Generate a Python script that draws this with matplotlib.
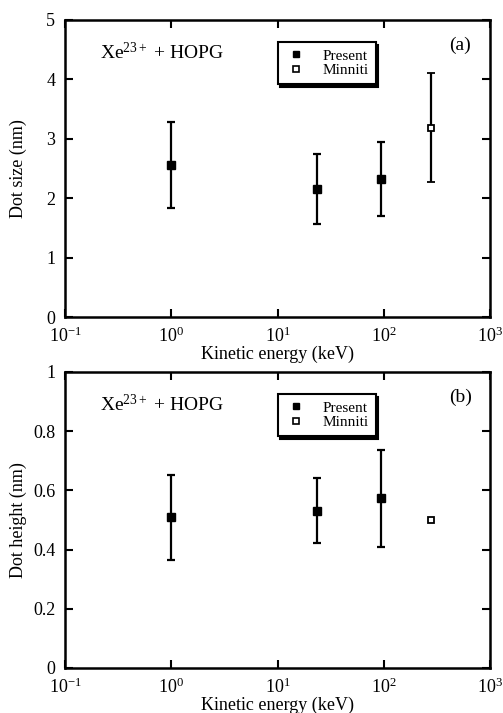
import numpy as np
import matplotlib
matplotlib.use("Agg")
import matplotlib.pyplot as plt

plt.rcParams["font.family"] = ["Liberation Serif", "DejaVu Serif"]
plt.rcParams["mathtext.fontset"] = "custom"
plt.rcParams["mathtext.rm"] = "Liberation Serif"
plt.rcParams["mathtext.it"] = "Liberation Serif:italic"

# Present data
energy_present = [1.0, 23.4, 93.5]
size_present = [2.56, 2.16, 2.33]
size_lo = [1.84, 1.57, 1.70]
size_hi = [3.28, 2.75, 2.95]
height_present = [0.509, 0.530, 0.573]
height_lo = [0.366, 0.421, 0.410]
height_hi = [0.651, 0.643, 0.737]

# Minniti data
energy_minniti = [278.0]
size_minniti = [3.19]
size_minniti_lo = [2.28]
size_minniti_hi = [4.10]
height_minniti = [0.50]

fig = plt.figure(figsize=(5.03, 7.13), dpi=100)
ax1 = fig.add_axes([65 / 503, 1 - 317 / 713, 425 / 503, 297 / 713])
ax2 = fig.add_axes([65 / 503, 1 - 668 / 713, 425 / 503, 296 / 713])


def style_axes(ax, ylim, yticks, ylabel, tag):
    ax.set_xscale("log")
    ax.set_xlim(0.1, 1000)
    ax.set_ylim(*ylim)
    ax.set_yticks(yticks)
    ax.set_yticklabels([f"{t:g}" for t in yticks])
    ax.set_xticks([0.1, 1, 10, 100, 1000])
    ax.xaxis.set_minor_locator(matplotlib.ticker.NullLocator())
    ax.tick_params(direction="in", top=True, right=True, length=6, width=1.5,
                   labelsize=13)
    ax.tick_params(axis="y", pad=7)
    ax.tick_params(axis="x", pad=7)
    for s in ax.spines.values():
        s.set_linewidth(1.8)
    ax.set_xlabel("Kinetic energy (keV)", fontsize=13, labelpad=0)
    ax.set_ylabel(ylabel, fontsize=13)
    ax.yaxis.set_label_coords(-0.09, 0.5)
    ax.text(0.082, 0.89, r"Xe$^{23+}$ + HOPG", transform=ax.transAxes,
            fontsize=14, va="center")
    ax.text(0.93, 0.915, tag, transform=ax.transAxes, fontsize=14,
            ha="center", va="center")


def err(vals, lo, hi):
    v = np.array(vals)
    return [v - np.array(lo), np.array(hi) - v]


ax1.errorbar(energy_present, size_present, yerr=err(size_present, size_lo, size_hi),
             fmt="s", color="black", ms=5.5, elinewidth=1.6, capsize=3, capthick=1.6,
             label="Present")
ax1.errorbar(energy_minniti, size_minniti,
             yerr=err(size_minniti, size_minniti_lo, size_minniti_hi),
             fmt="s", color="black", mfc="white", mew=1.3, ms=5, elinewidth=1.6,
             capsize=3, capthick=1.6, label="Minniti")
style_axes(ax1, (0, 5), [0, 1, 2, 3, 4, 5], "Dot size (nm)", "(a)")

ax2.errorbar(energy_present, height_present,
             yerr=err(height_present, height_lo, height_hi),
             fmt="s", color="black", ms=5.5, elinewidth=1.6, capsize=3, capthick=1.6,
             label="Present")
ax2.plot(energy_minniti, height_minniti, "s", color="black", mfc="white", mew=1.3,
         ms=5, label="Minniti")
style_axes(ax2, (0, 1), [0, 0.2, 0.4, 0.6, 0.8, 1], "Dot height (nm)", "(b)")

for ax in (ax1, ax2):
    handles = [
        plt.Line2D([], [], marker="s", ls="none", color="black", ms=5),
        plt.Line2D([], [], marker="s", ls="none", color="black", mfc="white",
                   mew=1.2, ms=4.5),
    ]
    leg = ax.legend(handles, ["Present", "Minniti"], loc="upper left",
                    bbox_to_anchor=(0.50, 0.925), fontsize=11, fancybox=False,
                    shadow={"color": "black", "alpha": 1}, framealpha=1,
                    edgecolor="black", handlelength=1.5, handletextpad=1.0,
                    borderpad=0.45, labelspacing=0.05, borderaxespad=0)
    leg.get_frame().set_linewidth(1.5)

fig.savefig("out.png", dpi=100)
